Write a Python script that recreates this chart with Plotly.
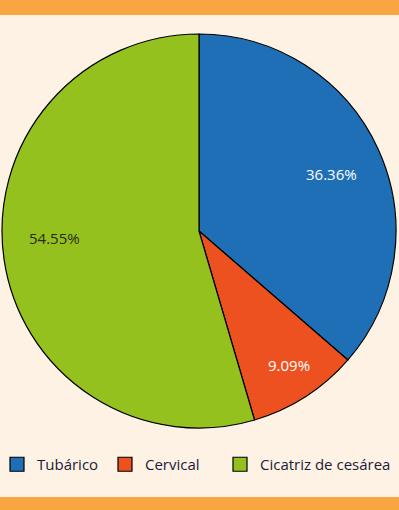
import math
import plotly.graph_objects as go

categories = ["Tubárico", "Cervical", "Cicatriz de cesárea"]
values = [36.36, 9.09, 54.55]
colors = ["#1F6FB7", "#EC511F", "#95C11F"]
text_colors = ["#FFFFFF", "#FFFFFF", "#2A2A10"]
label_radius = [0.74, 0.82, 0.74]
label_xshift = [0, 3, 0]
label_yshift = [-4, 2, 14]
legend_px = [0, 105, 220]   # left edge of each legend entry (pixels)

W, H = 399, 510
L, R, T, B = 2, 3, 34, 82
ph = H - T - B
pw = W - L - R

def py(px):
    return 1 + (T - px) / ph

def pxx(px):
    return (px - L) / pw

fig = go.Figure()
fig.add_trace(go.Pie(
    labels=categories,
    values=values,
    sort=False,
    direction="clockwise",
    rotation=0,
    marker=dict(colors=colors, line=dict(color="#000000", width=1.2)),
    textinfo="none",
    hoverinfo="label+percent",
    showlegend=False,
))

# legend entries (one legend per category so spacing can match the original)
legend_names = ["legend", "legend2", "legend3"]
for name, col, lg in zip(categories, colors, legend_names):
    fig.add_trace(go.Scatter(
        x=[None], y=[None], mode="markers", name=name,
        marker=dict(symbol="square", size=14, color=col,
                    line=dict(color="#000000", width=1.2)),
        legend=lg, showlegend=True, hoverinfo="skip",
    ))

# percentage labels placed along each slice's mid-angle
total = sum(values)
cum = 0.0
annotations = []
for v, c, rr, xs, ys in zip(values, text_colors, label_radius, label_xshift, label_yshift):
    mid = (cum + v / 2) / total * 2 * math.pi
    cum += v
    annotations.append(dict(
        x=0.5 + 0.5 * rr * math.sin(mid),
        y=0.5 + 0.5 * rr * math.cos(mid),
        xref="paper", yref="paper",
        xanchor="center", yanchor="middle",
        xshift=xs, yshift=ys,
        text=f"{v:.2f}%", showarrow=False,
        font=dict(color=c, size=15, family="Open Sans"),
    ))

def legend_cfg(xpx, indent=0):
    return dict(
        orientation="h",
        x=pxx(max(xpx, L)), xanchor="left",
        y=py(448), yanchor="top",
        bgcolor="rgba(0,0,0,0)",
        font=dict(size=15, color="#1B1B3A", family="Open Sans"),
        indentation=indent,
        itemclick=False, itemdoubleclick=False,
    )

fig.update_layout(
    width=W, height=H,
    margin=dict(l=L, r=R, t=T, b=B),
    paper_bgcolor="#FEF2E4",
    plot_bgcolor="#FEF2E4",
    font=dict(family="Open Sans", size=15, color="#1B1B3A"),
    xaxis=dict(visible=False),
    yaxis=dict(visible=False),
    legend=legend_cfg(legend_px[0], indent=-5),
    legend2=legend_cfg(legend_px[1]),
    legend3=legend_cfg(legend_px[2]),
    annotations=annotations,
    shapes=[
        dict(type="rect", xref="paper", yref="paper",
             x0=-0.05, x1=1.05, y0=py(15), y1=py(0),
             fillcolor="#F9A541", line=dict(width=0), layer="below"),
        dict(type="rect", xref="paper", yref="paper",
             x0=-0.05, x1=1.05, y0=py(510), y1=py(497),
             fillcolor="#F9A541", line=dict(width=0), layer="below"),
    ],
)

fig.write_html("out.html", config={"displayModeBar": False},
               post_script="document.body.style.margin='0';document.body.style.overflow='hidden';")
